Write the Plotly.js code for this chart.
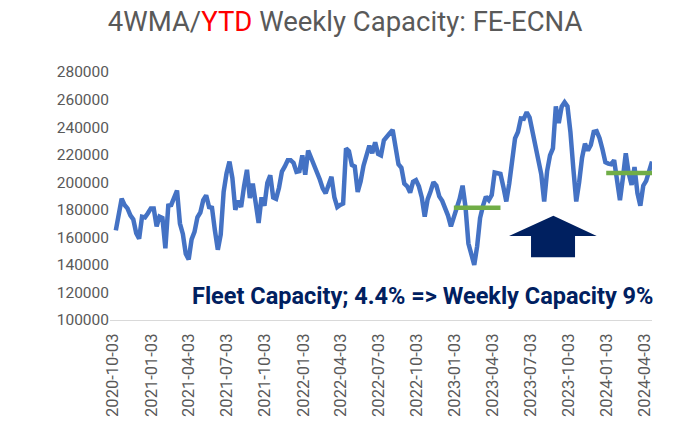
<!DOCTYPE html>
<html>
<head>
<meta charset="utf-8">
<script src="https://cdn.plot.ly/plotly-3.0.1.min.js"></script>
<style>html,body{margin:0;padding:0;background:#fff;}#chart{width:678px;height:432px;}</style>
</head>
<body>
<div id="chart"></div>
<script>
// Weekly 4WMA capacity, FE-ECNA (weekly, starting 2020-10-10)
var startDate = '2020-10-10';
var capacity = [
165000,178000,188000,183500,181000,176000,173000,163000,159000,175000,
174500,177500,181000,181000,168000,175000,174000,152000,183000,183500,
188000,194000,170000,162500,148000,144000,158500,164000,174500,178000,
187000,190500,182000,181500,165000,151000,162000,193000,206500,215000,
203000,180000,186500,182000,197000,209000,188500,199000,185000,170500,
189000,183000,199500,205000,189000,188000,196000,207700,211500,216000,
216000,214000,207500,208000,219500,205500,223000,218000,213500,209000,
202000,195500,192000,198000,204000,189000,182000,183500,184500,224500,
222500,212500,211500,193000,200500,212000,221000,226500,221000,229000,
220500,219500,230500,233700,235500,238000,224000,213000,210500,199000,
197000,192500,200300,201500,197000,189000,175000,187500,193300,200000,
197500,189700,186500,182000,175800,168000,175000,179500,188000,197500,
182000,155500,149000,140000,153500,174000,182800,189500,187000,190700,
207000,206500,206000,196500,186000,199000,214000,231800,236500,246300,
246000,250800,247000,237000,226000,214000,205700,186000,208000,219500,
224500,255000,243000,254800,258000,255000,236500,210000,186000,200000,
217800,228000,223000,227000,236500,237000,232000,224000,214500,213500,
213000,216000,200000,187000,203000,221000,206500,198000,211000,192000,
183000,197500,201000,209500,215000
];
// YTD averages
var ytd2023Dates = ['2022-12-31', '2023-04-22'];
var ytd2023Values = [181500, 181500];
var ytd2024Dates = ['2024-01-01', '2024-04-22'];
var ytd2024Values = [206700, 206700];
// Tick labels
var xTicks = ['2020-10-03','2021-01-03','2021-04-03','2021-07-03','2021-10-03','2022-01-03','2022-04-03','2022-07-03','2022-10-03','2023-01-03','2023-04-03','2023-07-03','2023-10-03','2024-01-03','2024-04-03'];
var yTicks = [100000,120000,140000,160000,180000,200000,220000,240000,260000,280000];

function weeklyDates(start, n) {
  var out = [];
  var d0 = new Date(start + 'T00:00:00Z');
  for (var i = 0; i < n; i++) {
    var d = new Date(d0.getTime() + i * 7 * 86400000);
    out.push(d.toISOString().slice(0, 10));
  }
  return out;
}
var dates = weeklyDates(startDate, capacity.length);

var FONT = 'Roboto, "Noto Sans", sans-serif';
var traces = [
  {x: dates, y: capacity, type: 'scatter', mode: 'lines',
   line: {color: '#4472C4', width: 4.5}, hoverinfo: 'x+y'},
  {x: ytd2023Dates, y: ytd2023Values, type: 'scatter', mode: 'lines',
   line: {color: '#70AD47', width: 4.5}},
  {x: ytd2024Dates, y: ytd2024Values, type: 'scatter', mode: 'lines',
   line: {color: '#70AD47', width: 4.5}}
];

var layout = {
  width: 678, height: 432,
  margin: {l: 110, r: 26, t: 72, b: 112},
  paper_bgcolor: '#ffffff', plot_bgcolor: '#ffffff',
  showlegend: false,
  font: {family: FONT, color: '#595959'},
  title: {
    text: '4WMA/<span style="color:#FF0000">YTD</span> Weekly Capacity: FE-ECNA',
    font: {family: FONT, size: 27.5, color: '#595959'},
    x: 0.509, xref: 'container', xanchor: 'center',
    y: 0.951, yref: 'container', yanchor: 'middle'
  },
  xaxis: {
    type: 'date',
    range: ['2020-09-26', '2024-04-20'],
    tickmode: 'array', tickvals: xTicks, ticktext: xTicks,
    tickangle: -90,
    ticklabelstandoff: 6,
    tickfont: {family: FONT, size: 16.5, color: '#595959'},
    showgrid: false, zeroline: false,
    showline: true, linecolor: '#D9D9D9', linewidth: 1,
    ticks: '', fixedrange: true
  },
  yaxis: {
    range: [100000, 280000],
    tickmode: 'array', tickvals: yTicks, ticktext: yTicks.map(String),
    tickfont: {family: FONT, size: 15.5, color: '#595959'},
    showgrid: false, zeroline: false, showline: false,
    ticks: '', fixedrange: true
  },
  shapes: [{
    type: 'path', xref: 'paper', yref: 'paper',
    path: 'M 0.7362 0.3387 L 0.818 0.4206 L 0.898 0.3387 L 0.858 0.3387 L 0.858 0.2528 L 0.7768 0.2528 L 0.7768 0.3387 Z',
    fillcolor: '#002060', line: {width: 0}
  }],
  annotations: [{
    text: '<b>Fleet Capacity; 4.4% => Weekly Capacity 9%</b>',
    xref: 'paper', yref: 'paper', x: 1.0055, y: 0.0968,
    xanchor: 'right', yanchor: 'middle', showarrow: false,
    font: {family: FONT, size: 23.5, color: '#002060'}
  }]
};

Plotly.newPlot('chart', traces, layout, {displayModeBar: false, staticPlot: true});
</script>
</body>
</html>
